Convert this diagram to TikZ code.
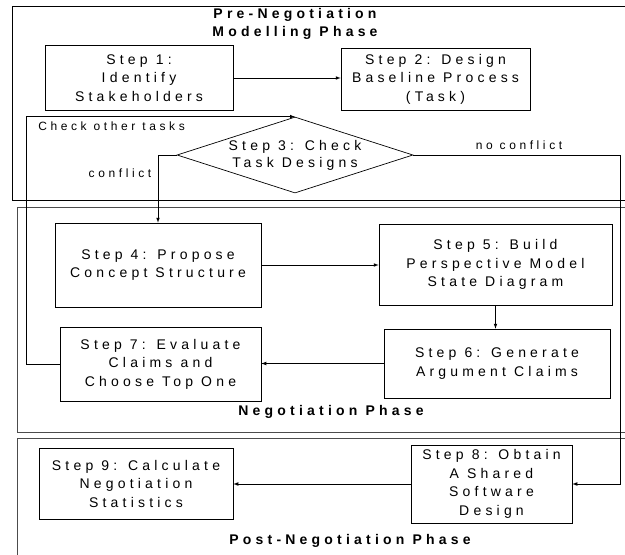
\documentclass[tikz,border=0pt]{standalone}
\usepackage{fontspec}
\setmainfont{Liberation Sans}[LetterSpace=30]
\usetikzlibrary{shapes.geometric}

\begin{document}
\begin{tikzpicture}[x=1pt,y=-1pt,line width=.7pt,
  every node/.style={font=\fontsize{14}{18.5}\selectfont},
  stepbox/.style={draw,align=center,inner sep=0pt},
  check/.style={draw,diamond,aspect=3.1,inner sep=-1pt,align=center,
    minimum width=236pt,minimum height=76pt,
    font=\fontsize{14}{17}\selectfont},
  phase/.style={font=\fontsize{14}{18}\selectfont\bfseries,align=center},
  lbl/.style={inner sep=0pt,font=\fontsize{12}{14}\selectfont}]
	\useasboundingbox (0,0) rectangle (625,555);
	\clip (0,0) rectangle (625,555);
	% phase frames
	\draw (12,6) rectangle (640,200);
	\draw[black!70] (17,207) rectangle (640,432);
	\draw[black!70] (17,438) rectangle (640,600);
	\node[phase] (pre) at (295,24) {Pre-Negotiation\\Modelling Phase};
	\node[phase] (neg) at (331,412) {Negotiation Phase};
	\node[phase] (post) at (350,541) {Post-Negotiation Phase};
	% steps
	\node[stepbox,minimum width=188pt,minimum height=65pt] (s1) at (139,78) {Step 1:\\Identify\\Stakeholders};
	\node[stepbox,minimum width=189pt,minimum height=62pt] (s2) at (435.5,79) {Step 2: Design\\Baseline Process\\(Task)};
	\node[check] (s3) at (295,155) {Step 3: Check\\Task Designs};
	\node[stepbox,minimum width=206pt,minimum height=84pt] (s4) at (158,265) {Step 4: Propose\\Concept Structure};
	\node[stepbox,minimum width=233pt,minimum height=81pt] (s5) at (495.5,264.5) {Step 5: Build\\Perspective Model\\State Diagram};
	\node[stepbox,minimum width=226pt,minimum height=69pt] (s6) at (497,363.5) {Step 6: Generate\\Argument Claims};
	\node[stepbox,minimum width=201pt,minimum height=74pt] (s7) at (160.5,364) {Step 7: Evaluate\\Claims and\\Choose Top One};
	\node[stepbox,minimum width=161pt,minimum height=78pt] (s8) at (491.5,484) {Step 8: Obtain\\A Shared\\Software\\Design};
	\node[stepbox,minimum width=194pt,minimum height=71pt] (s9) at (136,483.5) {Step 9: Calculate\\Negotiation\\Statistics};
	% labels
	\node[lbl,anchor=west] (other) at (38,126) {Check other tasks};
	\node[lbl] (noconf) at (519,145) {no conflict};
	\node[lbl] (conf) at (120,173) {conflict};
	\coordinate (nc) at (620,155);
	% connectors
	\draw[-latex] (s1.east) -- (s1.east -| s2.west);
	\draw[-latex] (s7.west) -- ++(-33,0) |- (s3.north);
	\draw[-latex] (s3.west) -| (s4.north);
	\draw[-latex] (s3.east) -- (nc) |- (s8.east);
	\draw[-latex] (s4.east) -- (s5.west |- s4.east);
	\draw[-latex] (s5.south) -- (s5.south |- s6.north);
	\draw[-latex] (s6.west) -- (s7.east |- s6.west);
	\draw[-latex] (s8.west) -- (s9.east |- s8.west);
\end{tikzpicture}
\end{document}
